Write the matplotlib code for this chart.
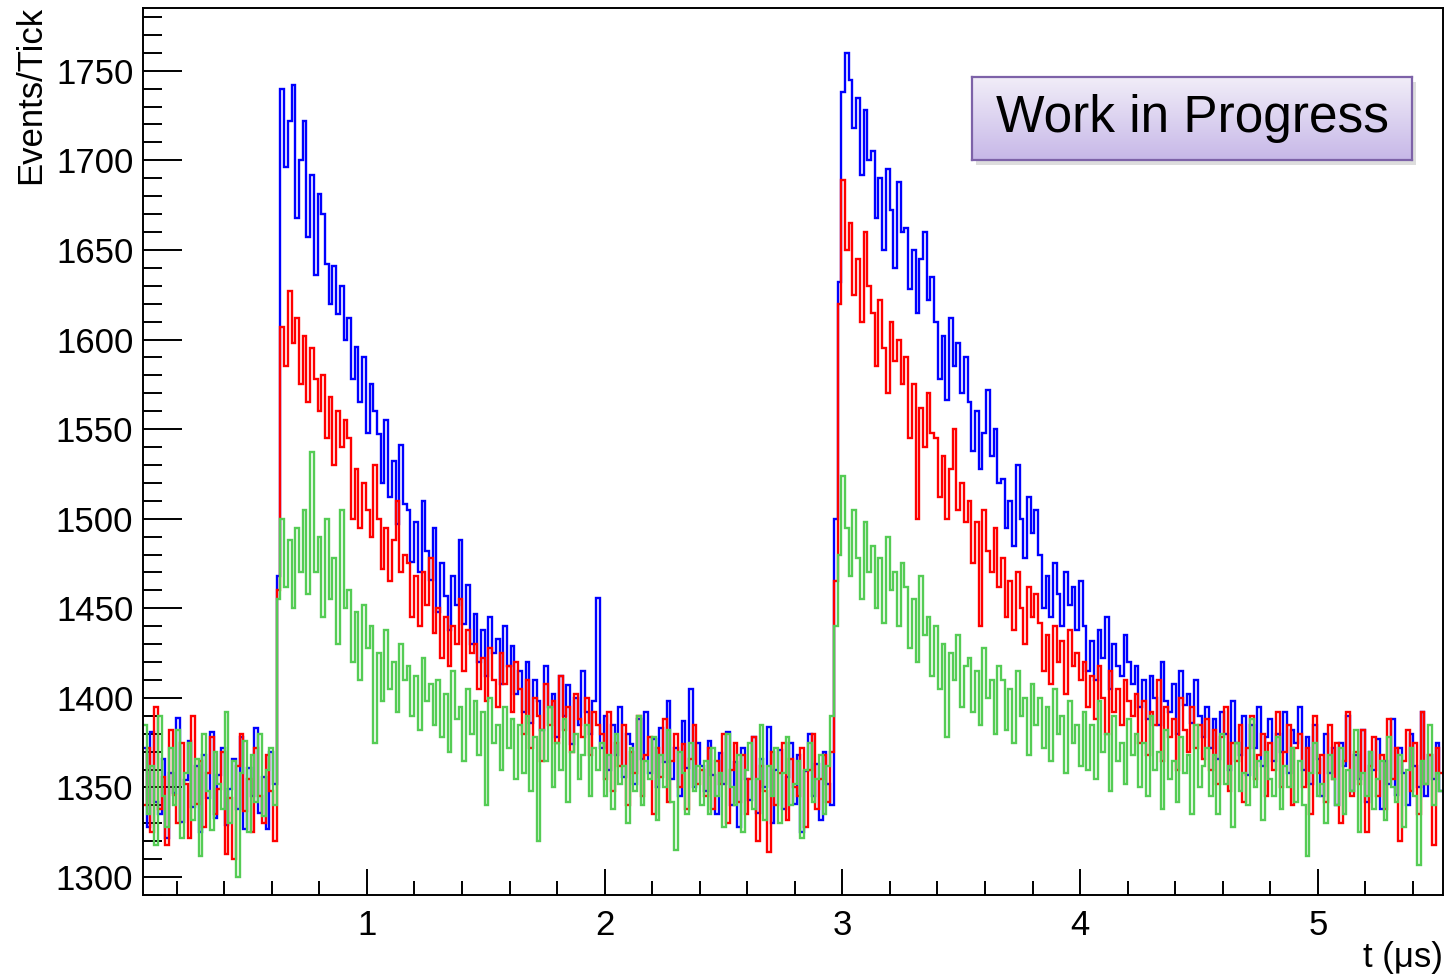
"""Three PMT waveform histograms (Events/Tick vs t) with two beam pulses."""
import numpy as np
import matplotlib
matplotlib.use("Agg")
import matplotlib.pyplot as plt
from matplotlib.colors import LinearSegmentedColormap
from matplotlib.patches import Rectangle
from matplotlib.ticker import MultipleLocator

plt.rcParams["font.family"] = ["Liberation Sans", "DejaVu Sans"]

# binning: one tick = 1/64 us, first bin edge at 0.058 us
T_START = 0.058
BIN_W = 1.0 / 64

# counts per tick (350 bins)
BLUE = [
    1372, 1328, 1381, 1342, 1335, 1366, 1322, 1358, 1347, 1389,
    1331, 1354, 1376, 1339, 1362, 1325, 1368, 1344, 1381, 1333,
    1357, 1372, 1329, 1349, 1366, 1338, 1378, 1327, 1361, 1345,
    1383, 1336, 1356, 1327, 1370, 1352,
    1468,
    1740, 1696, 1722, 1742, 1668, 1700,
    1722, 1657, 1692, 1636, 1681,
    1670, 1642, 1620, 1641, 1614, 1630, 1600,
    1612, 1578, 1596, 1565, 1590, 1548, 1575, 1560,
    1547, 1520, 1555, 1512, 1532, 1497, 1541, 1508,
    1505, 1476, 1498, 1470, 1510, 1482, 1466, 1495,
    1448, 1475, 1457, 1438, 1468, 1452, 1488, 1441, 1463, 1430,
    1447, 1420, 1438, 1412, 1445, 1425, 1433, 1408, 1440, 1418, 1429, 1402,
    1415, 1392, 1420, 1386, 1410, 1398, 1382, 1418, 1395, 1402,
    1378, 1412, 1390, 1407, 1374, 1400, 1385, 1415, 1392, 1380, 1398, 1456,
    1372, 1390, 1360, 1385, 1368, 1395, 1356, 1380, 1374, 1352,
    1388, 1366, 1392, 1358, 1377, 1350, 1383, 1364, 1398, 1355,
    1372, 1345, 1387, 1361, 1405, 1350, 1375, 1362,
    1348, 1376, 1357, 1335, 1369, 1352, 1381, 1340, 1364, 1328,
    1372, 1355, 1343, 1378, 1336, 1366, 1350, 1384, 1330, 1360,
    1371, 1338, 1356, 1375, 1341, 1368, 1325, 1359, 1380, 1345,
    1363, 1332, 1370, 1352, 1340,
    1500,
    1632, 1738, 1760, 1745, 1718, 1735, 1692, 1728, 1700,
    1705, 1668, 1690, 1650, 1695, 1672, 1640, 1688, 1660,
    1662, 1628, 1650, 1615, 1645, 1660, 1622, 1635,
    1610, 1578, 1602, 1566, 1612, 1585, 1598, 1570, 1590,
    1565, 1538, 1560, 1528, 1548, 1572, 1535, 1550, 1520,
    1522, 1495, 1510, 1485, 1530, 1500, 1478, 1512, 1492, 1505,
    1480, 1450, 1468, 1445, 1475, 1458, 1440, 1470, 1452, 1462, 1438, 1465,
    1440, 1415, 1432, 1410, 1438, 1422, 1445, 1405, 1430, 1418, 1412, 1435, 1420, 1408,
    1418, 1395, 1410, 1388, 1412, 1400, 1385, 1420, 1398, 1392,
    1408, 1380, 1415, 1396, 1402, 1386, 1410, 1390, 1378,
    1395, 1372, 1388, 1366, 1392, 1380, 1360, 1398, 1375, 1368,
    1390, 1357, 1385, 1372, 1395, 1362, 1378, 1388, 1365, 1380,
    1370, 1392, 1358, 1382, 1375,
    1395, 1360, 1378, 1352, 1385, 1366, 1345, 1380, 1358, 1372,
    1340, 1375, 1362, 1390, 1348, 1368, 1355, 1382, 1342, 1370,
    1360, 1377, 1338, 1365, 1352, 1388, 1346, 1372, 1358, 1340,
    1380, 1362, 1350, 1392, 1345, 1368, 1355, 1375, 1348,
]

RED = [
    1340, 1372, 1325, 1395, 1338, 1356, 1318, 1382, 1346, 1330,
    1375, 1352, 1322, 1390, 1341, 1365, 1328, 1358, 1378, 1335,
    1349, 1370, 1313, 1344, 1310, 1362, 1380, 1337, 1355, 1325,
    1372, 1345, 1330, 1368, 1348, 1320,
    1460,
    1607, 1585, 1627, 1598, 1612, 1575,
    1602, 1565, 1595, 1578, 1560,
    1580, 1545, 1568, 1530, 1560, 1540, 1555,
    1545, 1500, 1528, 1495, 1520, 1505, 1490, 1530,
    1500, 1472, 1495, 1465, 1488, 1510, 1470, 1480,
    1475, 1445, 1468, 1440, 1470, 1452, 1478, 1436,
    1450, 1422, 1445, 1418, 1440, 1430, 1455, 1415, 1438, 1425,
    1430, 1405, 1422, 1398, 1428, 1410, 1395, 1425, 1408, 1418, 1392, 1420,
    1405, 1380, 1410, 1372, 1400, 1390, 1365, 1408, 1385, 1398,
    1375, 1412, 1382, 1395, 1370, 1402, 1388, 1378, 1400, 1368, 1392, 1385,
    1380, 1355, 1392, 1348, 1375, 1362, 1385, 1340, 1370, 1358,
    1390, 1345, 1368, 1378, 1335, 1372, 1356, 1388, 1342, 1365,
    1380, 1350, 1374, 1338, 1366, 1385, 1352, 1360,
    1345, 1372, 1338, 1365, 1352, 1380, 1330, 1360, 1375, 1342,
    1368, 1335, 1355, 1378, 1320, 1362, 1348, 1314, 1370, 1340,
    1358, 1375, 1332, 1366, 1350, 1345, 1372, 1328, 1360, 1380,
    1338, 1355, 1368, 1342, 1370,
    1465,
    1620, 1689, 1650, 1665, 1625, 1645, 1610, 1660, 1630,
    1615, 1585, 1622, 1595, 1570, 1610, 1588, 1600, 1575,
    1590, 1545, 1575, 1500, 1562, 1540, 1570, 1548,
    1545, 1512, 1535, 1500, 1528, 1550, 1505, 1520, 1498,
    1510, 1475, 1498, 1440, 1505, 1482, 1470, 1495, 1462,
    1478, 1445, 1465, 1438, 1470, 1450, 1430, 1462, 1445, 1458,
    1442, 1415, 1435, 1408, 1440, 1420, 1432, 1402, 1438, 1418, 1425, 1410,
    1420, 1395, 1412, 1388, 1418, 1400, 1380, 1415, 1392, 1405, 1385, 1410, 1398, 1390,
    1402, 1375, 1398, 1368, 1392, 1385, 1410, 1365, 1395, 1378,
    1388, 1360, 1400, 1382, 1370, 1395, 1372, 1385, 1366,
    1388, 1360, 1382, 1352, 1378, 1395, 1348, 1375, 1365, 1385,
    1342, 1372, 1390, 1355, 1368, 1380, 1345, 1375, 1360, 1392,
    1350, 1370, 1385, 1340, 1372,
    1380, 1350, 1372, 1335, 1390, 1358, 1368, 1342, 1385, 1355,
    1375, 1330, 1365, 1392, 1345, 1370, 1352, 1382, 1325, 1362,
    1378, 1345, 1368, 1338, 1388, 1355, 1372, 1320, 1365, 1382,
    1348, 1375, 1335, 1392, 1352, 1368, 1318, 1372, 1358,
]

GREEN = [
    1385, 1335, 1362, 1318, 1390, 1345, 1328, 1372, 1340, 1382,
    1322, 1358, 1375, 1332, 1366, 1312, 1380, 1348, 1326, 1370,
    1352, 1338, 1392, 1330, 1365, 1300, 1358, 1376, 1325, 1368,
    1342, 1380, 1334, 1360, 1372, 1340,
    1455,
    1500, 1462, 1488, 1450, 1495, 1470,
    1505, 1458, 1537, 1470, 1490,
    1445, 1500, 1455, 1478, 1430, 1505, 1450,
    1460, 1420, 1448, 1410, 1452, 1428, 1440, 1375,
    1425, 1398, 1438, 1405, 1420, 1392, 1430, 1410,
    1418, 1390, 1412, 1382, 1422, 1398, 1408, 1385,
    1410, 1378, 1402, 1370, 1415, 1388, 1395, 1365, 1405, 1380,
    1398, 1368, 1392, 1340, 1400, 1375, 1385, 1360, 1395, 1372, 1388, 1355,
    1385, 1358, 1390, 1348, 1378, 1320, 1382, 1365, 1395, 1350,
    1375, 1360, 1388, 1342, 1370, 1380, 1355, 1368, 1385, 1345, 1372, 1360,
    1375, 1345, 1368, 1338, 1380, 1352, 1362, 1330, 1372, 1348,
    1390, 1340, 1365, 1355, 1378, 1332, 1368, 1350, 1382, 1342,
    1315, 1370, 1358, 1335, 1375, 1348, 1362, 1340,
    1365, 1335, 1372, 1345, 1358, 1328, 1380, 1350, 1340, 1368,
    1325, 1360, 1375, 1338, 1355, 1385, 1332, 1362, 1345, 1372,
    1330, 1358, 1378, 1340, 1352, 1365, 1322, 1360, 1375, 1342,
    1355, 1368, 1335, 1362, 1390,
    1440,
    1480, 1524, 1495, 1468, 1505, 1478, 1455, 1498, 1470,
    1485, 1450, 1478, 1442, 1490, 1460, 1470, 1440, 1475,
    1462, 1428, 1455, 1420, 1468, 1435, 1445, 1412,
    1440, 1405, 1430, 1378, 1425, 1410, 1435, 1395, 1418,
    1422, 1392, 1415, 1385, 1428, 1400, 1410, 1380, 1418,
    1410, 1382, 1405, 1375, 1415, 1390, 1400, 1368, 1408, 1385,
    1400, 1372, 1395, 1365, 1405, 1380, 1390, 1358, 1398, 1375, 1385, 1362,
    1392, 1360, 1385, 1355, 1398, 1370, 1380, 1348, 1390, 1365, 1375, 1352, 1388, 1368,
    1380, 1350, 1375, 1345, 1390, 1360, 1370, 1338, 1382, 1355,
    1365, 1342, 1378, 1358, 1368, 1335, 1385, 1350, 1362,
    1372, 1345, 1368, 1335, 1380, 1352, 1362, 1328, 1375, 1348,
    1358, 1340, 1388, 1350, 1365, 1332, 1370, 1355, 1345, 1378,
    1338, 1362, 1350, 1372, 1342,
    1365, 1340, 1312, 1358, 1375, 1345, 1352, 1330, 1368, 1355,
    1340, 1372, 1335, 1360, 1348, 1382, 1325, 1358, 1345, 1370,
    1338, 1355, 1365, 1332, 1378, 1350, 1342, 1368, 1328, 1360,
    1372, 1345, 1307, 1365, 1352, 1385, 1340, 1358, 1348,
]

SERIES = [("blue", BLUE, "#0000ff"), ("red", RED, "#ff0000"), ("green", GREEN, "#55cc55")]

W, H = 1445, 975
fig = plt.figure(figsize=(W / 100, H / 100), dpi=100)
ax = fig.add_axes([143 / W, 1 - 895 / H, 1300 / W, 887 / H])

n_max = max(len(v) for _, v, _ in SERIES)
for name, vals, col in SERIES:
    edges = T_START + np.arange(len(vals) + 1) * BIN_W
    ax.stairs(vals, edges, color=col, lw=1.7, baseline=None, zorder=2)

ax.set_xlim(T_START, T_START + n_max * BIN_W)
ax.set_ylim(1290, 1785)

ax.xaxis.set_major_locator(MultipleLocator(1))
ax.xaxis.set_minor_locator(MultipleLocator(0.2))
ax.yaxis.set_major_locator(MultipleLocator(50))
ax.yaxis.set_minor_locator(MultipleLocator(10))
ax.tick_params(axis="both", which="both", direction="in", width=1.4,
               labelsize=25, top=False, right=False)
ax.tick_params(axis="y", which="major", length=28, pad=7)
ax.tick_params(axis="y", which="minor", length=14)
ax.tick_params(axis="x", which="major", length=19, pad=10)
ax.tick_params(axis="x", which="minor", length=10)
for sp in ax.spines.values():
    sp.set_linewidth(1.4)

fig.text(31 / W, 1 - 6 / H, "Events/Tick", rotation=90, ha="center", va="top", fontsize=25)
fig.text(1443 / W, 1 - 957 / H, "t (\u03bcs)", ha="right", va="center", fontsize=25)

# "Work in Progress" box with gradient fill and drop shadow
bx, by, bw, bh = 972 / W, 1 - 160 / H, 440 / W, 83 / H
shadow = Rectangle((bx + 4 / W, by - 5 / H), bw, bh, transform=fig.transFigure,
                   facecolor="#aaaaaa", alpha=0.4, edgecolor="none", zorder=3)
fig.add_artist(shadow)
bax = fig.add_axes([bx, by, bw, bh], zorder=5)
cmap = LinearSegmentedColormap.from_list("wip", ["#f1edf8", "#c7b8e8"])
bax.imshow(np.linspace(0, 1, 100).reshape(-1, 1), cmap=cmap, aspect="auto",
           extent=[0, 1, 0, 1])
bax.set_xticks([])
bax.set_yticks([])
for sp in bax.spines.values():
    sp.set_color("#7d62a8")
    sp.set_linewidth(1.6)
bax.text(0.5, 0.5, "Work in Progress", transform=bax.transAxes, ha="center",
         va="center", fontsize=37)

fig.savefig("out.png", dpi=100)
